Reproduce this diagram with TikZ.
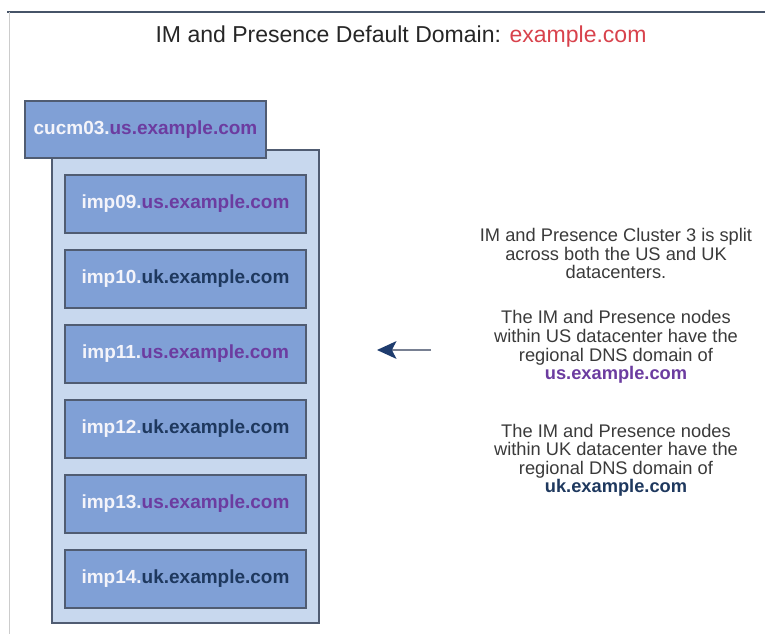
\documentclass[tikz,border=0pt]{standalone}
\usepackage{fontspec}
\setmainfont{Liberation Sans}
\usetikzlibrary{arrows.meta, positioning}
\definecolor{hostblue}{RGB}{128,160,214}
\definecolor{clusterblue}{RGB}{200,216,238}
\definecolor{boxedge}{RGB}{80,92,114}
\definecolor{hostwhite}{RGB}{244,244,250}
\definecolor{uspurple}{RGB}{108,60,160}
\definecolor{uknavy}{RGB}{30,56,94}
\definecolor{titlered}{RGB}{216,66,76}
\definecolor{notegray}{RGB}{58,58,58}
\definecolor{framegray}{RGB}{70,84,104}
\definecolor{arrowgray}{RGB}{120,128,146}
\definecolor{arrownavy}{RGB}{30,60,110}
\newcommand{\usdom}{\textcolor{uspurple}{us.example.com}}
\newcommand{\ukdom}{\textcolor{uknavy}{uk.example.com}}

\begin{document}
\begin{tikzpicture}[
        hostbox/.style={draw=boxedge, fill=hostblue, line width=0.8pt, minimum width=4.82cm, minimum height=1.16cm, text=hostwhite, font=\bfseries\fontsize{10.8}{12}\selectfont},
        arrow/.style={draw=arrowgray, line width=1.2pt, -{Stealth[length=11pt, width=10pt, inset=2.5pt, color=arrownavy]}}
    ]
        \useasboundingbox (0,0) rectangle (15.3,-12.68);

        % Frame
        \draw[framegray, line width=0.8pt] (0.14,-0.24) -- (15.3,-0.24);
        \draw[gray!40, line width=0.6pt] (0.19,-0.24) -- (0.19,-12.68);

        % Title
        \node[anchor=base, text=black!85, font=\fontsize{13.1}{15}\selectfont] (title) at (8.02,-0.86) {IM and Presence Default Domain: \textcolor{titlered}{example.com}};

        % Cluster
        \node[draw=boxedge, fill=clusterblue, line width=0.8pt, minimum width=5.34cm, minimum height=9.46cm] (cluster) at (3.71,-7.73) {};

        % Publisher
        \node[hostbox, minimum height=1.14cm] (cucm) at (2.91,-2.59) {cucm03.\usdom};

        % IM and Presence nodes
        \node[hostbox] (imp09) at (3.71,-4.08) {imp09.\usdom};
        \node[hostbox] (imp10) at (3.71,-5.58) {imp10.\ukdom};
        \node[hostbox] (imp11) at (3.71,-7.08) {imp11.\usdom};
        \node[hostbox] (imp12) at (3.71,-8.58) {imp12.\ukdom};
        \node[hostbox] (imp13) at (3.71,-10.08) {imp13.\usdom};
        \node[hostbox] (imp14) at (3.71,-11.58) {imp14.\ukdom};

        % Note
        \node[anchor=north, inner sep=0pt, align=center, text=notegray, font=\fontsize{10.4}{10.6}\selectfont] (note) at (12.32,-4.56) {
            IM and Presence Cluster 3 is split\\
            across both the US and UK\\
            datacenters.\\[15pt]
            The IM and Presence nodes\\
            within US datacenter have the\\
            regional DNS domain of\\
            {\bfseries\usdom}\\[22pt]
            The IM and Presence nodes\\
            within UK datacenter have the\\
            regional DNS domain of\\
            {\bfseries\ukdom}
        };

        % Arrow
        \coordinate (arrowstart) at (8.62,-7.0);
        \coordinate (arrowend) at (7.54,-7.0);
        \draw[arrow] (arrowstart) -- (arrowend);
    \end{tikzpicture}
\end{document}
